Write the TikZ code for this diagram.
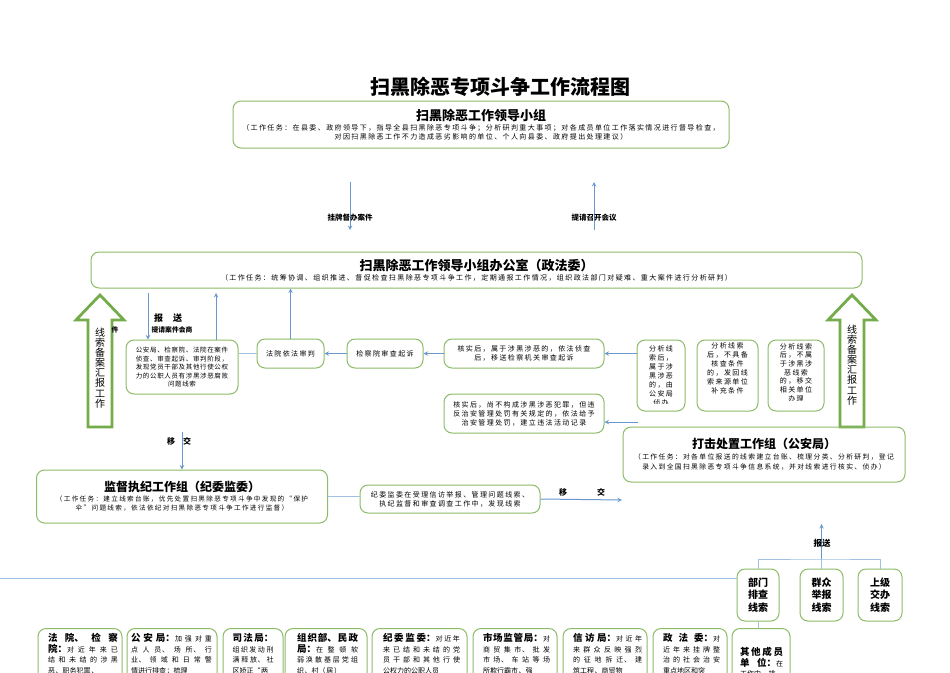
\documentclass[tikz,border=0pt]{standalone}
\usepackage{fontspec}
\setmainfont{Noto Sans CJK SC}
\newfontfamily\tk{Noto Sans CJK SC}[LetterSpace=20]
\newfontfamily\tks{Noto Sans CJK SC}[LetterSpace=10]
\usetikzlibrary{arrows}
\XeTeXlinebreaklocale "zh"
\XeTeXlinebreakskip=0pt plus 4pt
\definecolor{boxgreen}{RGB}{140,188,104}
\definecolor{arrgreen}{RGB}{116,172,76}
\definecolor{linkblue}{RGB}{105,152,206}
\definecolor{linklight}{RGB}{160,192,228}
\newcommand{\boxtitle}[2][13]{{\rmfamily\bfseries\fontsize{#1}{#1}\selectfont #2}}
\newcommand{\hd}[1]{{\rmfamily\bfseries\fontsize{9.5}{10.7}\selectfont #1}}
\tikzset{
  box/.style = {draw=boxgreen, line width=1pt, rounded corners=8pt, inner sep=0pt},
  tsk/.style = {box, align=center, font=\tk\fontsize{7}{9}\selectfont},
  tsk_s/.style = {align=center, inner sep=0pt, font=\tk\fontsize{7}{9}\selectfont},
  tsk_a/.style = {box, align=center, font=\tks\fontsize{6.5}{8.5}\selectfont},
  bot/.style = {anchor=north, align=justify, inner sep=0pt, text width=#1, font=\tks\fontsize{7}{10.7}\selectfont},
  src/.style = {box, align=center, font=\rmfamily\bfseries\fontsize{10}{12.5}\selectfont},
  lbl/.style = {inner sep=0pt, font=\rmfamily\bfseries\fontsize{7.5}{9}\selectfont},
  arr/.style = {draw=linkblue, line width=1pt, -stealth},
  lnk/.style = {draw=linklight, line width=1pt},
  bigarr/.style = {draw=arrgreen, line width=2.8pt, fill=white},
  vtxt/.style = {align=center, inner sep=0pt, font=\rmfamily\fontsize{10}{10.1}\selectfont},
}

\begin{document}
\begin{tikzpicture}[x=1pt, y=-1pt]
  \useasboundingbox (0,0) rectangle (950,672);
  \clip (0,0) rectangle (950,672);
  \fill[white] (0,0) rectangle (950,672);

  % title and leading group
  \node[inner sep=0pt, font=\rmfamily\bfseries\fontsize{20}{24}\selectfont] (title) at (500,87) {扫黑除恶专项斗争工作流程图};
  \node[tsk, minimum width=496pt, minimum height=47pt] (lead) at (481,124.5) {\boxtitle{扫黑除恶工作领导小组}\\[1pt]（工作任务：在县委、政府领导下，指导全县扫黑除恶专项斗争；分析研判重大事项；对各成员单位工作落实情况进行督导检查，\\对因扫黑除恶工作不力造成恶劣影响的单位、个人向县委、政府提出处理建议）};
  \node[tsk, minimum width=771pt, minimum height=36pt] (ofc) at (476.5,270) {\boxtitle{扫黑除恶工作领导小组办公室（政法委）}\\[1pt]（工作任务：统筹协调、组织推进、督促检查扫黑除恶专项斗争工作，定期通报工作情况，组织政法部门对疑难、重大案件进行分析研判）};

  \coordinate (gp_a) at (350,182);
  \coordinate (gp_b) at (350,230);
  \coordinate (hy_a) at (594,230);
  \coordinate (hy_b) at (594,182);
  \draw[arr] (gp_a) -- (gp_b);
  \draw[arr] (hy_a) -- (hy_b);
  \node[lbl] (gp) at (350,218) {挂牌督办案件};
  \node[lbl] (hy) at (594,218) {提请召开会议};

  % big arrows
  \draw[bigarr] (100,295) -- (124,320) -- (112,320) -- (112,427) -- (88,427) -- (88,320) -- (76,320) -- cycle;
  \node[vtxt] (xs_l) at (100,368) {线\\索\\备\\案\\汇\\报\\工\\作};
  \draw[bigarr] (852,295) -- (876,320) -- (864,320) -- (864,427) -- (840,427) -- (840,320) -- (828,320) -- cycle;
  \node[vtxt] (xs_r) at (852,365) {线\\索\\备\\案\\汇\\报\\工\\作};

  % handling row
  \node[tsk_a, minimum width=112pt, minimum height=54pt] (gaj) at (182,367) {公安局、检察院、法院在案件\\侦查、审查起诉、审判阶段，\\发现党员干部及其他行使公权\\力的公职人员有涉黑涉恶腐败\\问题线索};
  \node[tsk, minimum width=67pt, minimum height=29pt] (fy) at (290.5,353.5) {法院依法审判};
  \node[tsk, minimum width=76pt, minimum height=29pt] (jc) at (385,353.5) {检察院审查起诉};
  \node[tsk, minimum width=160pt, minimum height=29pt] (hs1) at (524,353.5) {核实后，属于涉黑涉恶的，依法侦查\\后，移送检察机关审查起诉};
  \node[tsk, minimum width=160pt, minimum height=39pt] (hs2) at (524,413.5) {核实后，尚不构成涉黑涉恶犯罪，但违\\反治安管理处罚有关规定的，依法给予\\治安管理处罚，建立违法活动记录};

  \node[box, minimum width=48pt, minimum height=71pt] (c1) at (661,375.5) {};
  \node[box, minimum width=61pt, minimum height=71pt] (c2) at (727.5,375.5) {};
  \node[box, minimum width=56pt, minimum height=71pt] (c3) at (796,375.5) {};
  \begin{scope}
    \clip (637,341) rectangle (685,403);
    \node[tsk_s, anchor=north] (c1t) at (661,345) {分析线\\索后，\\属于涉\\黑涉恶\\的，由\\公安局\\侦办};
  \end{scope}
  \node[tsk_s, anchor=north] (c2t) at (727.5,342) {分析线索\\后，不具备\\核查条件\\的，发回线\\索来源单位\\补充条件};
  \begin{scope}
    \clip (768,341) rectangle (824,400);
    \node[tsk_s, anchor=north, font=\tk\fontsize{7}{8.7}\selectfont] (c3t) at (796,343) {分析线索\\后，不属\\于涉黑涉\\恶线索\\的，移交\\相关单位\\办理};
  \end{scope}

  \coordinate (bs_a) at (148,293);
  \coordinate (bs_b) at (216,293);
  \draw[arr] (bs_a) -- (bs_a |- gaj.north);
  \draw[arr] (bs_b |- gaj.north) -- (bs_b);
  \node[lbl, font=\rmfamily\bfseries\fontsize{9}{10}\selectfont] (bs) at (168,318) {报\hspace{10pt}送};
  \node[lbl, font=\rmfamily\bfseries\fontsize{6.8}{8}\selectfont] (tq) at (172,330) {提请案件会商};
  \node[lbl, font=\rmfamily\bfseries\fontsize{6.8}{8}\selectfont] (jian) at (115,330) {件};

  \draw[lnk] (gaj.east |- fy.west) -- (fy.west);
  \draw[arr] (fy.north) -- (fy.north |- ofc.south);
  \draw[arr] (jc.west) -- (fy.east);
  \draw[arr] (hs1.west) -- (jc.east);
  \draw[arr] (c1.west |- hs1.east) -- (hs1.east);
  \draw[arr] ([xshift=33pt,yshift=-8.5pt]hs2.east) -- ([yshift=-8.5pt]hs2.east);

  % working groups
  \node[tsk, font=\tk\fontsize{6.8}{10}\selectfont, minimum width=282pt, minimum height=55pt] (dj) at (764,454.5) {\boxtitle[12]{打击处置工作组（公安局）}\\[1pt]（工作任务：对各单位报送的线索建立台账、梳理分类、分析研判，登记\\录入到全国扫黑除恶专项斗争信息系统，并对线索进行核实、侦办）};
  \node[tsk, font=\tk\fontsize{6.6}{9}\selectfont, minimum width=291pt, minimum height=53pt] (jd) at (182,496.5) {\boxtitle[12]{监督执纪工作组（纪委监委）}\\[1pt]（工作任务：建立线索台账，优先处置扫黑除恶专项斗争中发现的“保护\\伞”问题线索，依法依纪对扫黑除恶专项斗争工作进行监督）};
  \node[tsk, minimum width=180pt, minimum height=28pt] (jw) at (450,499) {纪委监委在受理信访举报、管理问题线索、\\执纪监督和审查调查工作中，发现线索};

  \coordinate (yj_a) at (182,432);
  \draw[arr] (yj_a) -- (jd.north);
  \node[lbl, font=\rmfamily\bfseries\fontsize{8}{9}\selectfont] (yj1) at (179,441) {移\hspace{8pt}交};
  \draw[lnk] (jd.east) -- (jd.east -| jw.west);
  \coordinate (yj_b) at (622,500);
  \draw[arr] (jw.east) -- (yj_b);
  \node[lbl, font=\rmfamily\bfseries\fontsize{8}{9}\selectfont] (yj2) at (582,492) {移\hspace{30pt}交};

  % clue sources
  \node[src, minimum width=42pt, minimum height=52pt] (bm) at (758,595) {部门\\排查\\线索};
  \node[src, minimum width=43pt, minimum height=52pt] (qz) at (821.5,595) {群众\\举报\\线索};
  \node[src, minimum width=44pt, minimum height=52pt] (sj) at (880,595) {上级\\交办\\线索};
  \coordinate (hub) at (821.5,559);
  \coordinate (rp) at (821.5,524);
  \draw[lnk] (bm.north) |- (hub) -| (sj.north);
  \draw[lnk] (qz.north) -- (hub);
  \draw[arr] (hub) -- (rp);
  \node[lbl, font=\rmfamily\bfseries\fontsize{8.5}{9}\selectfont] (bs2) at (822,543) {报送};

  % member units
  \node[box, anchor=north, minimum width=84pt, minimum height=100pt] (fj) at (80,628) {};
  \node[box, anchor=north, minimum width=90pt, minimum height=100pt] (ga) at (172,628) {};
  \node[box, anchor=north, minimum width=60pt, minimum height=100pt] (sf) at (253,628) {};
  \node[box, anchor=north, minimum width=82pt, minimum height=100pt] (zz) at (326,628) {};
  \node[box, anchor=north, minimum width=95pt, minimum height=100pt] (jwb) at (419.5,628) {};
  \node[box, anchor=north, minimum width=84pt, minimum height=100pt] (sc) at (515,628) {};
  \node[box, anchor=north, minimum width=84pt, minimum height=100pt] (xf) at (605,628) {};
  \node[box, anchor=north, minimum width=74pt, minimum height=100pt] (zf) at (690,628) {};
  \node[box, anchor=north, minimum width=58pt, minimum height=100pt] (qt) at (761,628) {};

  \node[bot=70pt] (fjt) at (83,633) {\tolerance=10000\parfillskip=0pt \hd{法院、检察}\linebreak\hd{院：}对近年来已\linebreak 结和未结的涉黑\linebreak 恶、职务犯罪、};
  \node[bot=81pt] (gat) at (171.5,633) {\tolerance=10000\parfillskip=0pt \hd{公安局：}加强对重\linebreak 点人员、场所、行\linebreak 业、领域和日常警\linebreak 情进行排查；梳理};
  \node[bot=41pt] (sft) at (253,633) {\tolerance=10000\parfillskip=0pt \hd{司法局：}\linebreak 组织发动刑\linebreak 满释放、社\linebreak 区矫正“两};
  \node[bot=61pt] (zzt) at (327.5,633) {\tolerance=10000\parfillskip=0pt \hd{组织部、民政}\linebreak\hd{局：}在整顿软\linebreak 弱涣散基层党组\linebreak 织、村（居）};
  \node[bot=77pt] (jwt) at (421.5,633) {\tolerance=10000\parfillskip=0pt \hd{纪委监委：}对近年\linebreak 来已结和未结的党\linebreak 员干部和其他行使\linebreak 公权力的公职人员};
  \node[bot=67pt] (sct) at (516.5,633) {\tolerance=10000\parfillskip=0pt \hd{市场监管局：}对\linebreak 商贸集市、批发\linebreak 市场、车站等场\linebreak 所欺行霸市、强};
  \node[bot=69pt] (xft) at (607.5,633) {\tolerance=10000\parfillskip=0pt \hd{信访局：}对近年\linebreak 来群众反映强烈\linebreak 的征地拆迁、建\linebreak 筑工程、商贸物};
  \node[bot=57pt] (zft) at (691.5,633) {\tolerance=10000\parfillskip=0pt \hd{政法委：}对\linebreak 近年来挂牌整\linebreak 治的社会治安\linebreak 重点地区和突};
  \node[bot=43pt] (qtt) at (761.5,647) {\tolerance=10000\parfillskip=0pt \hd{其他成员}\linebreak\hd{单位：}在\linebreak 工作中，排};

  \coordinate (bus) at (0,578);
  \draw[lnk] (bus) -- (bus -| bm.west);
  \draw[lnk] (bm.south) -- (bm.south |- qt.north);
\end{tikzpicture}
\end{document}
